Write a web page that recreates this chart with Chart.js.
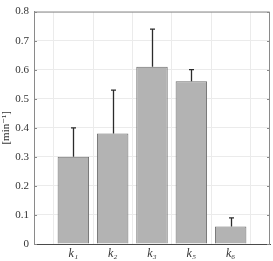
<!DOCTYPE html>
<html>
<head>
<meta charset="utf-8">
<script src="https://cdn.jsdelivr.net/npm/chart.js@4/dist/chart.umd.min.js"></script>
<style>
  html, body { margin: 0; padding: 0; background: #fff; }
  #wrap { width: 273px; height: 261px; }
</style>
</head>
<body>
<div id="wrap"><canvas id="chart"></canvas></div>
<script>
// categories (empty slots at both ends keep the MATLAB-like x limits)
const labels = ['', 'k\u2081', 'k\u2082', 'k\u2083', 'k\u2085', 'k\u2086', ''];
const rates = [null, 0.30, 0.38, 0.61, 0.56, 0.06, null];
const errUp = [null, 0.10, 0.15, 0.13, 0.04, 0.03, null];
const yTicks = [0, 0.1, 0.2, 0.3, 0.4, 0.5, 0.6, 0.7, 0.8];

const serif = '"Liberation Serif", "DejaVu Serif", serif';
const boxColor = '#8a8a8a';

// error bars (upper only) + inner ticks + box
const decorations = {
    id: 'decorations',
    afterDatasetsDraw(chart) {
        const ctx = chart.ctx;
        const y = chart.scales.y;
        const meta = chart.getDatasetMeta(0);
        ctx.save();
        ctx.strokeStyle = '#2b2b2b';
        ctx.lineWidth = 1.3;
        meta.data.forEach((bar, i) => {
            if (rates[i] === null) return;
            const x = Math.round(bar.x) + 0.5;
            const y0 = y.getPixelForValue(rates[i]);
            const y1 = y.getPixelForValue(rates[i] + errUp[i]);
            ctx.beginPath();
            ctx.moveTo(x, y0);
            ctx.lineTo(x, y1);
            ctx.moveTo(x - 2.5, y1);
            ctx.lineTo(x + 2.5, y1);
            ctx.stroke();
        });
        ctx.restore();
    },
    afterDraw(chart) {
        const ctx = chart.ctx;
        const a = chart.chartArea;
        const y = chart.scales.y;
        ctx.save();
        ctx.lineWidth = 1;
        ctx.strokeStyle = boxColor;
        // top and right edges of the box
        ctx.beginPath();
        ctx.moveTo(a.left, a.top + 0.5);
        ctx.lineTo(a.right - 0.5, a.top + 0.5);
        ctx.lineTo(a.right - 0.5, a.bottom);
        ctx.stroke();
        // inward ticks on both sides
        yTicks.forEach(v => {
            const py = Math.round(y.getPixelForValue(v)) + 0.5;
            ctx.beginPath();
            ctx.moveTo(a.left, py);
            ctx.lineTo(a.left + 3, py);
            ctx.moveTo(a.right, py);
            ctx.lineTo(a.right - 3, py);
            ctx.stroke();
        });
        ctx.restore();
    }
};

new Chart(document.getElementById('chart'), {
    type: 'bar',
    data: {
        labels: labels,
        datasets: [{
            data: rates,
            backgroundColor: '#b3b3b3',
            borderColor: '#6e6e6e',
            borderWidth: 1,
            barPercentage: 0.8,
            categoryPercentage: 1.0
        }]
    },
    options: {
        responsive: true,
        maintainAspectRatio: false,
        animation: false,
        layout: { padding: { top: 5, right: 1, left: 0, bottom: 0 } },
        plugins: {
            legend: { display: false },
            tooltip: { enabled: false }
        },
        scales: {
            x: {
                offset: false,
                grid: { color: '#ebebeb', drawTicks: false },
                border: { color: '#4a4a4a', width: 1 },
                ticks: {
                    color: '#333',
                    padding: 3,
                    maxRotation: 0,
                    autoSkip: false,
                    font: { family: serif, size: 12, style: 'italic' }
                },
                afterFit(scale) { scale.height = 17; }
            },
            y: {
                min: 0,
                max: 0.8,
                grid: { color: '#ebebeb', drawTicks: false },
                border: { color: boxColor, width: 1 },
                ticks: {
                    stepSize: 0.1,
                    padding: 5,
                    color: '#333',
                    font: { family: serif, size: 11 },
                    callback: v => String(Math.round(v * 10) / 10)
                },
                title: {
                    display: true,
                    text: '[min\u207B\u00B9]',
                    color: '#333',
                    padding: { top: 0, bottom: 0 },
                    font: { family: serif, size: 11 }
                },
                afterFit(scale) { scale.width = 34; }
            }
        }
    },
    plugins: [decorations]
});
</script>
</body>
</html>
